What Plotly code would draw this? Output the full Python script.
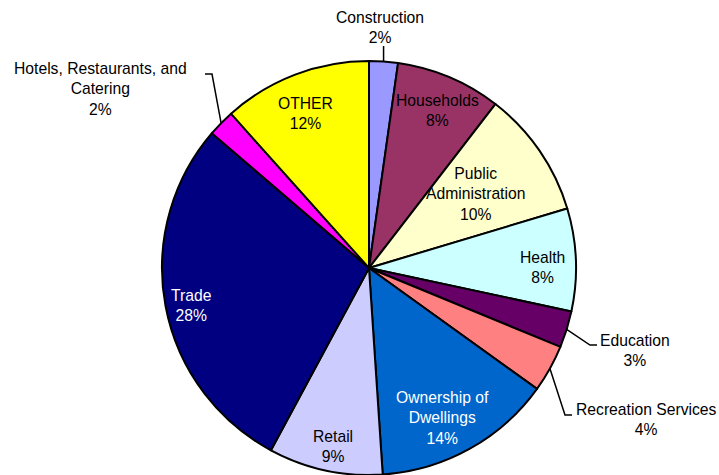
import math
import plotly.graph_objects as go

# ---- data ----
categories = ["Construction", "Households", "Public<br>Administration", "Health", "Education",
              "Recreation Services", "Ownership of<br>Dwellings", "Retail", "Trade",
              "Hotels, Restaurants, and<br>Catering", "OTHER"]
shares = [2.24, 8.2, 9.9, 8.0, 2.85, 3.7, 14.0, 8.9, 28.4, 2.1, 11.6]
colors = ["#9999FF", "#993366", "#FFFFCC", "#CCFFFF", "#660066", "#FF8080",
          "#0066CC", "#CCCCFF", "#000080", "#FF00FF", "#FFFF00"]

# ---- layout / label styling ----
W, H = 719, 475
CX, CY, R = 369, 268, 207    # pie centre/radius in pixels
FONT = "Arial, Liberation Sans, sans-serif"
FS = 15.7
# inside labels: radial fraction, angle nudge (deg), text colour
inside = {
    "Households": (0.83, 0.5, "black"),
    "Public<br>Administration": (0.625, -0.3, "black"),
    "Health": (0.836, 2.2, "black"),
    "Ownership of<br>Dwellings": (0.808, 2.9, "white"),
    "Retail": (0.879, -0.9, "black"),
    "Trade": (0.875, -1.3, "white"),
    "OTHER": (0.806, -1.3, "black"),
}
# outside labels: text centre (px) and leader elbow points (px)
outside = {
    "Construction": ((380, 27), [(None, 46)]),
    "Hotels, Restaurants, and<br>Catering": ((100, 89), [(212, 74), (205, 74)]),
    "Education": ((635, 350), [(590, 345), (597, 345)]),
    "Recreation Services": ((646, 419), [(565, 415), (572, 415)]),
}


def px(x, y):
    return x / W, 1 - y / H


fig = go.Figure(go.Pie(
    labels=categories, values=shares, sort=False, direction="clockwise", rotation=0,
    marker=dict(colors=colors, line=dict(color="black", width=2)),
    textinfo="none", hoverinfo="label+percent", showlegend=False,
    domain=dict(x=[(CX - R) / W, (CX + R) / W],
                y=[max(0.0, 1 - (CY + R) / H), 1 - (CY - R) / H]),
))

total = sum(shares)
annotations, shapes = [], []
cum = 0.0
for lab, v in zip(categories, shares):
    mid = (cum + v / 2) / total * 2 * math.pi
    cum += v
    pct = f"{round(v / total * 100):d}%"
    if lab in inside:
        rf, nudge, col = inside[lab]
        a = mid + math.radians(nudge)
        x, y = px(CX + rf * R * math.sin(a), CY - rf * R * math.cos(a))
        annotations.append(dict(x=x, y=y, xref="paper", yref="paper", text=f"{lab}<br>{pct}",
                                showarrow=False, xanchor="center", yanchor="middle",
                                font=dict(family=FONT, size=FS, color=col)))
    else:
        (tx, ty), elbows = outside[lab]
        x, y = px(tx, ty)
        annotations.append(dict(x=x, y=y, xref="paper", yref="paper", text=f"{lab}<br>{pct}",
                                showarrow=False, xanchor="center", yanchor="middle",
                                font=dict(family=FONT, size=FS, color="black")))
        ex, ey = CX + R * math.sin(mid), CY - R * math.cos(mid)
        pts = [(ex, ey)] + [((ex if a is None else a), b) for a, b in elbows]
        path = " ".join(("M" if i == 0 else "L") + f" {px(a, b)[0]} {px(a, b)[1]}"
                        for i, (a, b) in enumerate(pts))
        shapes.append(dict(type="path", path=path, xref="paper", yref="paper",
                           line=dict(color="black", width=1.5)))

fig.update_layout(width=W, height=H, margin=dict(l=0, r=0, t=0, b=0),
                  paper_bgcolor="white", plot_bgcolor="white",
                  annotations=annotations, shapes=shapes)
fig.write_html("out.html", config={"displayModeBar": False},
               post_script="document.body.style.margin='0';document.body.style.overflow='hidden';")
